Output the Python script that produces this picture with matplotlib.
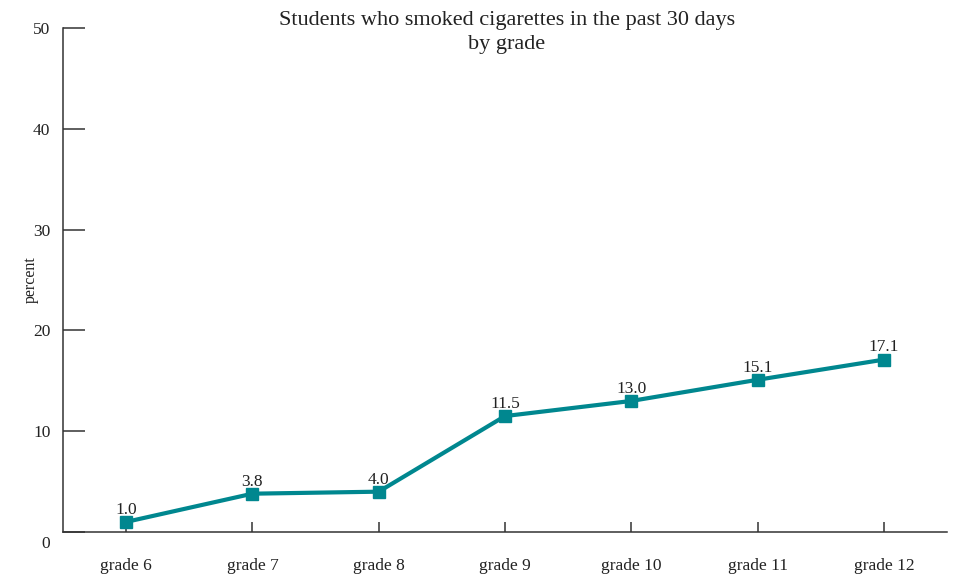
import matplotlib
matplotlib.use("Agg")
import matplotlib.pyplot as plt
import matplotlib.transforms as mtransforms

# Datos
grades = ["grade 6", "grade 7", "grade 8", "grade 9", "grade 10", "grade 11", "grade 12"]
percent = [1.0, 3.8, 4.0, 11.5, 13.0, 15.1, 17.1]
y_ticks = [0, 10, 20, 30, 40, 50]

plt.rcParams["font.family"] = ["Liberation Serif", "DejaVu Serif"]

fig = plt.figure(figsize=(9.54, 5.76), dpi=100)
ax = fig.add_axes([0.066, 0.0764, 0.9267, 0.875])

teal = "#00878F"
axis_col = "#333333"
text_col = "#222222"
x = list(range(len(grades)))
ax.plot(x, percent, color=teal, linewidth=3, marker="s", markersize=8.5,
        solid_joinstyle="round")

for xi, v in zip(x, percent):
    ax.annotate(f"{v:.1f}", (xi, v), xytext=(0, 3), textcoords="offset points",
                ha="center", va="bottom", fontsize=12.5, color=text_col)

ax.set_xlim(-0.5, 6.5)
ax.set_ylim(0, 50)
ax.set_xticks(x)
ax.set_xticklabels(grades)
ax.set_yticks(y_ticks)

for side in ["top", "right"]:
    ax.spines[side].set_visible(False)
for side in ["left", "bottom"]:
    ax.spines[side].set_color(axis_col)
    ax.spines[side].set_linewidth(1.1)

ax.tick_params(axis="y", direction="in", length=16, width=1.1, color=axis_col,
               pad=9, labelsize=12.5, labelcolor=text_col)
ax.tick_params(axis="x", direction="in", length=7.5, width=1.1, color=axis_col,
               pad=19, labelsize=12.5, labelcolor=text_col)

# la etiqueta 0 aparece un poco por debajo del eje
lbl0 = ax.get_yticklabels()[0]
lbl0.set_transform(lbl0.get_transform() + mtransforms.ScaledTranslation(0, -7 / 72, fig.dpi_scale_trans))

ax.set_ylabel("percent", fontsize=11.5, color=text_col, labelpad=-4)
fig.text(0.531, 0.9436, "Students who smoked cigarettes in the past 30 days\nby grade",
         ha="center", va="center", fontsize=16, color=text_col, linespacing=1.4)

fig.savefig("out.png", dpi=100)
